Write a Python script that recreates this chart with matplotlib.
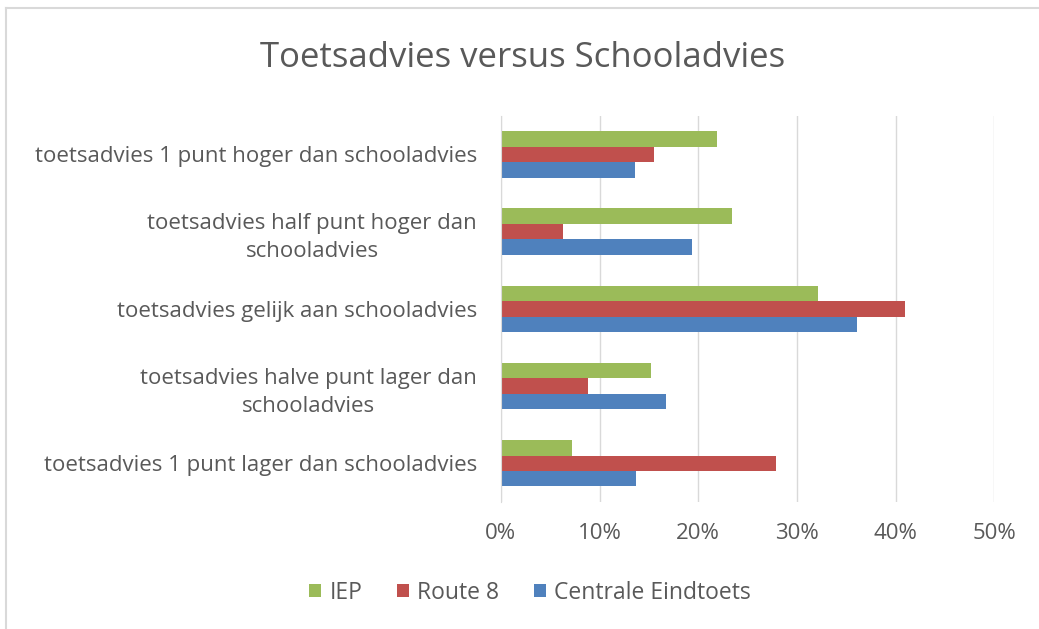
import matplotlib.pyplot as plt
import numpy as np
from matplotlib.lines import Line2D

categories = [
    "toetsadvies 1 punt hoger dan schooladvies",
    "toetsadvies half punt hoger dan\nschooladvies",
    "toetsadvies gelijk aan schooladvies",
    "toetsadvies halve punt lager dan\nschooladvies",
    "toetsadvies 1 punt lager dan schooladvies",
]
iep = [21.9, 23.4, 32.1, 15.2, 7.2]
route8 = [15.5, 6.3, 41.0, 8.8, 27.9]
centrale = [13.6, 19.4, 36.1, 16.7, 13.7]

plt.rcParams['font.family'] = ['Open Sans', 'DejaVu Sans']
txt = '#595959'

fig = plt.figure(figsize=(10.39, 6.29), dpi=100)
ax = fig.add_axes([0.482, 0.202, 0.475, 0.614])

y = np.arange(len(categories))
h = 0.2
# y axis is inverted: first series drawn lowest in each group
ax.barh(y - h, iep, height=h, color='#9BBB59', label='IEP')
ax.barh(y, route8, height=h, color='#C0504D', label='Route 8')
ax.barh(y + h, centrale, height=h, color='#4F81BD', label='Centrale Eindtoets')

ax.set_xlim(0, 50)
ax.set_ylim(len(categories) - 0.5, -0.5)
ax.set_xticks(np.arange(0, 51, 10))
ax.set_xticklabels([f"{v}%" for v in range(0, 51, 10)])
ax.set_yticks(y)
ax.set_yticklabels(categories, multialignment='center', linespacing=1.45)
ax.tick_params(axis='both', length=0, labelcolor=txt, labelsize=16)
ax.tick_params(axis='x', pad=15)
ax.tick_params(axis='y', pad=17)
ax.grid(axis='x', color='#d9d9d9', linewidth=1)
ax.set_axisbelow(True)
for s in ['top', 'right', 'bottom']:
    ax.spines[s].set_visible(False)
ax.spines['left'].set_color('#d9d9d9')

fig.text(0.503, 0.907, "Toetsadvies versus Schooladvies", ha='center', va='center',
         fontsize=25, color=txt)

handles, labels = ax.get_legend_handles_labels()
fig.legend(handles, labels, loc='center', bbox_to_anchor=(0.51, 0.058), ncol=3,
           frameon=False, fontsize=16.5, labelcolor=txt, handlelength=0.55,
           handleheight=0.55, handletextpad=0.35, columnspacing=1.5)

# chart border (top and left)
fig.add_artist(Line2D([0.006, 1], [0.987, 0.987], color='#d9d9d9', lw=1.5))
fig.add_artist(Line2D([0.006, 0.006], [0, 0.987], color='#d9d9d9', lw=1.5))

fig.savefig('out.png', dpi=100, facecolor='white')
